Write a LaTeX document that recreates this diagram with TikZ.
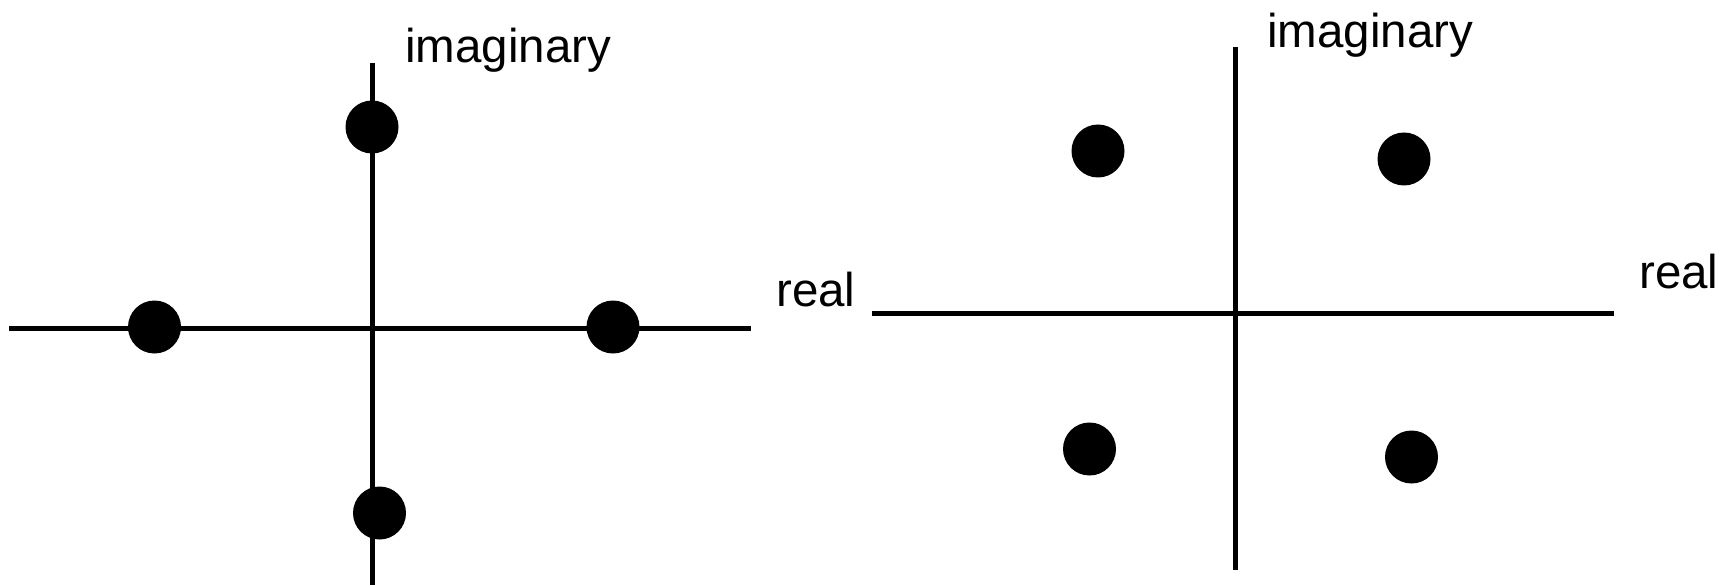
\documentclass[tikz,border=0pt]{standalone}
\usepackage{fontspec}
\setmainfont{Liberation Sans}
\begin{document}
\begin{tikzpicture}[x=1pt,y=-1pt,
  axis/.style={line width=5pt},
  dot/.style={circle,fill=black,inner sep=0pt,minimum size=53pt},
  lbl/.style={inner sep=0pt,anchor=base west,font=\fontsize{47.5}{52}\selectfont}]
\useasboundingbox (0,0) rectangle (1726,585);
% left panel
\coordinate (LhW) at (9,328);
\coordinate (LhE) at (751,328);
\coordinate (LvN) at (372,63);
\coordinate (LvS) at (372,585);
\draw[axis] (LhW) -- (LhE);
\draw[axis] (LvN) -- (LvS);
\node[dot] (Ltop) at (372,127) {};
\node[dot] (Lleft) at (154.5,327) {};
\node[dot] (Lright) at (613,327) {};
\node[dot] (Lbot) at (379.5,513) {};
\node[lbl] (Limag) at (405,63) {imaginary};
\node[lbl] (Lreal) at (776,306) {real};
% right panel
\coordinate (RhW) at (872,313);
\coordinate (RhE) at (1614,313);
\coordinate (RvN) at (1235,47);
\coordinate (RvS) at (1235,570);
\draw[axis] (RhW) -- (RhE);
\draw[axis] (RvN) -- (RvS);
\node[dot] (Rul) at (1098,151) {};
\node[dot] (Rur) at (1404,159) {};
\node[dot] (Rll) at (1089.5,449) {};
\node[dot] (Rlr) at (1411.5,457) {};
\node[lbl] (Rimag) at (1267,47.5) {imaginary};
\node[lbl] (Rreal) at (1639,289) {real};
\end{tikzpicture}
\end{document}
